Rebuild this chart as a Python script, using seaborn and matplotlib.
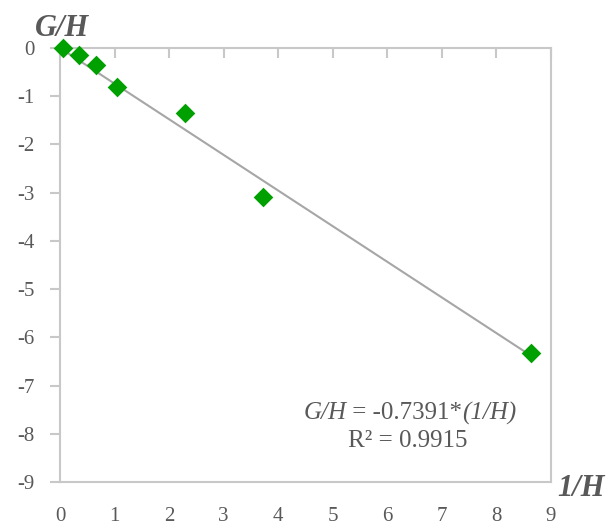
import matplotlib
matplotlib.use("Agg")
import matplotlib.pyplot as plt
from matplotlib.offsetbox import TextArea, HPacker, AnnotationBbox
import seaborn as sns
import pandas as pd
import numpy as np

# Data
inv_h = [0.05, 0.34, 0.66, 1.05, 2.30, 3.73, 8.63]
g_over_h = [-0.01, -0.15, -0.35, -0.81, -1.35, -3.09, -6.33]
slope = -0.7391
r_squared = 0.9915
x_ticks = list(range(0, 10))
y_ticks = list(range(0, -10, -1))

sns.set_style("white")
plt.rcParams['font.family'] = ['Liberation Serif', 'DejaVu Serif']

df = pd.DataFrame({"inv_h": inv_h, "g_over_h": g_over_h})

fig = plt.figure(figsize=(6.10, 5.28), dpi=100)
ax = fig.add_axes([60/610, 1-482/528, (551-60)/610, (482-48)/528])

# trend line through origin
x_line = np.array([0.0, max(inv_h)])
line_df = pd.DataFrame({"x": x_line, "y": slope * x_line})
sns.lineplot(data=line_df, x="x", y="y", ax=ax, color="#a6a6a6", linewidth=1.5, zorder=2)

sns.scatterplot(data=df, x="inv_h", y="g_over_h", ax=ax, marker="D", s=100,
                color="#00a000", edgecolor="#00a000", linewidth=0, zorder=3, clip_on=False)

ax.set_xlim(0, 9)
ax.set_ylim(-9, 0)
ax.set_xticks(x_ticks)
ax.set_yticks(y_ticks)
ax.set_xticklabels([str(t) for t in x_ticks])
ax.set_yticklabels([str(t) for t in y_ticks])
ax.set_xlabel("")
ax.set_ylabel("")

spine_c = "#c8c8c8"
for s in ax.spines.values():
    s.set_color(spine_c)
    s.set_linewidth(1.5)

lab_c = "#595959"
ax.tick_params(axis="x", which="both", top=True, bottom=True, labeltop=False, labelbottom=True,
               direction="in", colors=spine_c, labelcolor=lab_c, labelsize=15, length=7, width=1.5)
for t in ax.xaxis.get_major_ticks():
    t.tick1line.set_visible(False)
ax.tick_params(axis="x", pad=18)
ax.tick_params(axis="y", which="both", left=True, direction="out", colors=spine_c,
               labelcolor=lab_c, labelsize=15, length=7, width=1.5, pad=11)

# axis titles
fig.text(35/610, 1-28/528, "G/H", fontsize=22, fontweight="bold", fontstyle="italic",
         color=lab_c, ha="left", va="center")
fig.text(557/610, 1-489/528, "1/H", fontsize=22, fontweight="bold", fontstyle="italic",
         color=lab_c, ha="left", va="center")

# equation (mixed italic / upright pieces)
eq_size = 18
pieces = [("G/H", "italic"), (" = -0.7391*", "normal"), ("(1/H)", "italic")]
areas = [TextArea(txt, textprops=dict(fontsize=eq_size, color=lab_c, fontstyle=st))
         for txt, st in pieces]
pack = HPacker(children=areas, pad=0, sep=0, align="baseline")
ab = AnnotationBbox(pack, (410/610, 1-413/528), xycoords="figure fraction",
                    frameon=False, box_alignment=(0.5, 0.5), pad=0)
fig.add_artist(ab)
fig.text(408/610, 1-441/528, f"R² = {r_squared:.4f}", fontsize=eq_size, color=lab_c,
         ha="center", va="center")

fig.savefig("out.png", dpi=100)
